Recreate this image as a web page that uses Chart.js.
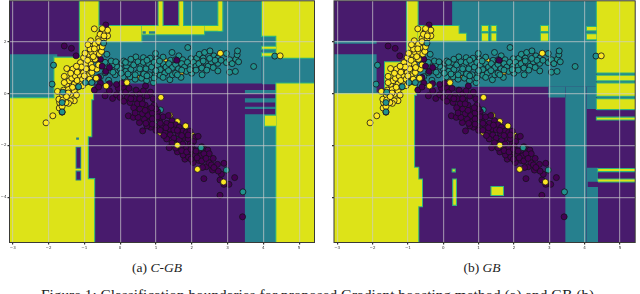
<!DOCTYPE html>
<html><head><meta charset="utf-8">
<style>
html,body{margin:0;padding:0;background:#fff;width:640px;height:294px;overflow:hidden}
canvas{position:absolute;top:-4px;filter:blur(0.5px)}
#a{left:0}#b{left:320px}
.c{position:absolute;font-family:"Liberation Serif",serif;color:#222;white-space:nowrap;transform:translateX(-50%)}
</style>
<script src="https://cdn.jsdelivr.net/npm/chart.js@4"></script>
</head><body>
<canvas id="a" width="320" height="256"></canvas>
<canvas id="b" width="320" height="256"></canvas>
<div class="c" style="left:157px;top:260px;font-size:13.5px">(a) <i>C-GB</i></div>
<div class="c" style="left:482px;top:260px;font-size:13.5px">(b) <i>GB</i></div>
<div class="c" style="left:319.5px;top:285.5px;font-size:15.3px">Figure 1: Classification boundaries for proposed Gradient boosting method (a) and GB (b).</div>
<script>
const xTickValues=[-3,-2,-1,0,1,2,3,4,5];
const yTickValues=[2,0,-2,-4];
const xRange=[-3.09,5.43];
const yRange=[-5.74,3.57];
const palette={purple:'#481b6d',teal:'#26808e',yellow:'#dde318',edge:'#2fb47c'};
const dots={purple:'#440154',teal:'#21918c',yellow:'#fde725'};

const yellowUnder=[[1.14,-.15],[.47,.63],[1.24,1.26],[1.7,.82],[2.2,1.19],[.99,1.26],[2.6,1.42],[.65,-.58],[1.39,-.85],[1.83,-1.25],[1.6,-1.08],[1.13,-1.5],[2.0,-1.6],[2.07,-1.68]];
const tealUnder=[[1.13,-.63],[.44,.13],[1.64,-1.67],[1.05,-1.15]];
const tealPoints=[[.44,1.41],[.65,1.38],[.84,1.36],[.99,1.54],[1.02,1.32],[1.2,1.4],[1.45,1.58],[1.41,1.28],[1.64,1.45],[1.75,1.3],[1.89,1.77],[1.98,1.34],[2.14,1.36],[2.21,1.51],[2.36,1.58],[2.32,1.36],[2.51,1.64],[2.62,1.45],[2.73,1.36],[2.73,1.16],[2.97,1.54],[2.97,1.19],[3.06,1.3],[3.13,1.15],[3.23,1.32],[3.27,1.49],[3.28,1.64],[3.31,1.22],[2.73,.87],[3.06,.82],[3.22,.85],[3.73,1.04],[4.32,1.44],
[.05,1.17],[.1,1.25],[.18,1.05],[.25,1.2],[.3,.92],[.38,1.1],[.5,1.22],[.58,1.05],[.65,1.2],[.72,.95],[.8,1.15],[.88,1.02],[.95,1.2],[1.05,1.1],[1.12,.92],[1.2,1.15],[1.28,1.02],[1.36,1.15],[1.46,1.0],[1.55,1.12],[1.63,.95],[1.72,1.15],[1.8,1.02],[1.88,1.2],[1.97,1.05],[2.05,1.2],[2.12,1.05],[2.2,1.15],[2.28,.98],[2.38,1.2],[2.46,1.05],[2.55,1.22],[2.6,1.0],[2.42,.9],[2.82,1.28],
[-.14,.72],[-.32,.51],[.09,.64],[.28,.64],[.42,.55],[.6,.59],[.74,.49],[.93,.42],[1.39,.53],[1.46,.72],[1.7,.62],[2.29,.72],[.15,.85],[.0,.95],[-.1,1.05],[-.22,1.1],[-.3,.9],[-.42,.8],[-.5,1.12],[-.42,1.2],[-.25,1.25],[-.12,1.22],[.5,.8],[.66,.75],[.82,.72],[.98,.78],[1.12,.7],[1.25,.78],[1.55,.78],[1.85,.85],[2.0,.78],[2.12,.9],[.42,.72],[.22,.75],[.03,.78],[-.2,.82],[.95,.6],[1.2,.62],[1.6,.72],[.75,.68],[-.55,.65],[-.7,.55],[-.85,.45],
[.3,1.32],[.75,1.28],[.55,.95],[1.0,.88],[1.35,.88],[1.72,.9],[1.95,.92],[2.32,1.25],[2.65,1.28],[1.1,1.25],[1.55,1.3],[.15,1.2],[2.5,1.35]];
const purplePoints=[[-.72,.13],[-.42,-.09],[-.21,-.19],[-.1,-.05],[.09,.23],[.33,-.09],[.71,.29],[-.3,.1],[-.05,.2],[.15,.05],[.25,.2],[.45,.12],[.0,-.15],[.2,-.15],[.4,-.2],[.55,-.02],[.65,.1],[.28,-.35],[.48,-.4],[.6,-.25],[.75,-.1],[.85,.05],[.92,-.2],[.7,-.45],[.82,-.6],[.55,-.6],[.38,-.55],[.62,-.78],[.78,-.85],[.95,-.45],[1.05,-.7],[.9,-.75],
[.23,-.86],[.37,-.92],[.54,-1.12],[.63,-1.44],[.5,-.92],[.68,-1.0],[.8,-1.1],[.97,-1.24],[1.1,-1.05],[.9,-.98],[1.05,-.9],[1.2,-.9],[1.3,-1.15],[1.39,-1.37],[1.18,-1.25],[1.0,-1.42],[.85,-1.3],[.75,-1.25],[1.45,-1.05],[1.35,-.85],[1.55,-1.2],[1.5,-1.4],[1.25,-1.5],[1.65,-1.3],[1.75,-1.45],[1.62,-1.55],[1.4,-1.6],[1.5,-1.72],[1.3,-1.75],[1.85,-1.5],[1.95,-1.45],[2.1,-1.68],[2.18,-1.65],[1.8,-1.7],[1.65,-1.8],[1.9,-1.75],[1.55,-1.95],[1.45,-1.9],[1.75,-1.95],[1.95,-1.95],[2.05,-1.85],[1.7,-2.1],[1.85,-2.12],[1.6,-2.25],[1.37,-2.09],[2.34,-2.12],[2.45,-2.18],[2.2,-2.2],[2.05,-2.15],[1.95,-2.28],[2.1,-2.38],[2.25,-2.4],
[3.42,-4.75],[2.79,-3.92],[2.34,-3.28],[2.79,-3.33],[2.9,-2.69],[3.2,-3.24],[3.04,-3.5],[2.9,-3.5],[2.83,-3.11],[2.74,-2.99],[2.72,-2.73],[2.58,-2.95],[2.41,-2.82],[2.3,-2.85],[2.48,-2.66],[2.6,-2.5],[2.49,-2.32],[2.34,-2.32],[2.2,-2.58],[2.04,-2.66],[1.81,-2.53],[1.76,-2.37],[1.91,-2.45],[1.98,-2.53],[1.72,-2.2],[1.86,-2.25],[2.15,-2.48],[2.28,-2.6],[2.4,-2.5],[2.55,-2.75],[2.62,-2.85],
[.1,-.3],[.3,-.2],[.55,-.2],[.42,-.75],[.7,-.65],[1.0,-.6],[.88,-.55],[.62,-.4],[.72,-1.15],[.9,-1.18],[1.12,-1.15],[1.28,-1.32],[1.42,-1.22],[1.12,-1.42],[1.22,-1.62],[1.6,-1.42],[1.72,-1.62],[1.9,-1.6],[2.28,-2.05],[2.0,-2.02],[1.55,-2.1],[1.98,-2.15],[2.12,-2.22]];
const purpleMix=[[-.4,2.64],[-.51,2.37],[-.6,1.77],[-1.56,1.83],[-1.36,1.74],[-1.23,1.45],[-.55,1.32],[-.7,1.32],[-1.16,.9],[-.88,1.0],[-.4,.85],[-.55,.4],[-.6,.62],[-.3,.38],[-.1,.35],[.05,.4],[-1.62,-.72]];
const yellowPoints=[[-2.07,-1.13],[-1.88,-.86],[-1.7,-.56],[-1.69,-.35],[-1.71,-.22],[-1.75,.08],[-1.58,.13],[-1.44,.17],[-1.49,.36],[-1.42,.49],[-1.28,.36],[-1.35,.59],[-1.11,.42],[-1.25,.68],[-1.11,.68],[-1.49,.96],[-1.32,.94],[-1.16,.95],[-1.02,.81],[-.91,.68],[-.79,.81],[-.67,.59],[-.65,.94],[-.82,1.13],[-.97,1.13],[-1.11,1.19],[-1.02,1.38],[-.91,1.28],[-.88,1.51],[-.7,1.32],[-.79,1.58],[-.67,1.58],[-.84,1.71],[-.65,1.77],[-.82,2.03],[-.6,2.13],[-.7,1.9],[-.56,1.96],[-.46,2.09],[-.35,2.22],[-.46,2.35],[-.35,2.44],[-.72,2.49],[-.56,2.28],[-1.28,-.28],[-1.39,-.28],[-1.44,-.38],[-1.53,-.15],[-1.39,-.03],[-1.28,.1],[-1.61,-.05],[-1.51,-.35],[-1.56,.42],[-1.2,.5],[-1.38,.78],[-1.2,.82],[-1.05,.55],[-.95,.95],[-.85,.55],[-.78,1.0],[-.98,1.55],[-.75,1.42],[-.58,1.52],[-.72,1.72],[-.52,1.62],[-.45,2.22],[-.5,2.5],[-1.08,1.02],[-1.0,.68],[-1.22,1.05],[-.6,1.1],[-1.6,-.25],[-1.45,.02],[-1.62,-.5],[-1.18,.25],[-.6,2.0],[-1.5,-.12],[-1.33,.24],[-1.22,-.06],[-1.05,.3],[-1.56,.66],[-.9,1.88],[-.5,1.8]];
const tealTop=[[-1.62,-.35],[-1.62,-.71],[-1.86,1.09],[-1.9,.36],[-1.16,.26],[-.46,1.94],[-.37,1.51],[-.97,.42],[-.79,.42],[-1.6,.05],[2.97,-2.95],[3.43,-3.79],[2.26,-2.09]];
const purpleTop=[[1.58,1.28],[-.5,1.05],[-.3,1.0],[-.6,.25]];
const yellowTop=[[4.47,1.45],[2.8,1.55],[-.39,.29],[.19,.42],[1.6,-1.99],[2.16,-2.92],[2.89,-3.41]];

const baseRegion=[[-3.2,5.6,3.7,-5.9]];
const tealLeft=[[-3.2,-1.75,1.51,-.18],[-.85,3.96,1.96,.38],[-.6,3.96,2.45,1.96],[2.86,3.96,3.7,1.96],[1.76,2.74,3.7,2.55],[3.96,4.36,2.2,.36],[3.96,5.6,1.38,.38],[3.48,4.36,-.8,-5.9],[3.48,4.36,.13,0],[3.48,4.36,-.18,-.35],[3.48,4.36,-.51,-.6]];
const yellowLeft=[[-1.13,-.6,3.7,1.3],[-.6,.6,2.6,2.0],[.6,2.35,2.6,2.28],[2.35,2.83,2.6,2.42],[1.07,1.19,3.7,2.55],[1.65,1.76,3.7,2.55],[2.74,2.86,3.7,2.42],[3.96,5.6,3.7,2.22],[4.36,5.6,2.26,1.38],[3.96,4.36,1.8,1.72],[3.96,4.36,1.55,1.45],[4.36,5.6,.38,-5.9],[4.04,4.36,-.86,-1.24],[-3.2,-.8,-.18,-1.65],[-3.2,-.9,-1.6,-3.35],[-3.2,-.72,-3.3,-5.9],[-1.84,-.75,1.38,-.22]];
const holesLeft=[[-1.25,-1.08,-2.05,-2.9,1],[-1.25,-1.08,-2.97,-3.35,1],[-1.22,-1.11,-2.09,-2.86,0],[-1.22,-1.11,-3.01,-3.31,0],[-1.23,-1.15,-1.7,-1.78,1],[.62,.72,2.4,2.3,1],[.8,.98,2.4,2.3,1]];
const tealRight=[[-3.2,-1.88,1.51,.04],[-3.2,-1.88,2.03,1.92],[-.72,4.34,2.03,.26],[.25,4.34,3.7,2.0],[2.97,3.45,.26,-.15],[3.45,4.06,.26,-5.9],[4.06,4.38,-2.86,-5.9],[4.06,4.34,.26,-.6],[4.34,5.6,.81,-.65]];
const yellowRight=[[-1.03,-.72,3.7,1.2],[-.72,.44,2.6,2.26],[-.72,.65,2.3,2.03],[1.09,1.27,2.6,2.41],[1.09,1.27,2.31,2.03],[1.36,1.5,2.6,2.41],[1.36,1.5,2.31,2.03],[2.76,2.97,2.6,2.41],[2.76,2.97,2.31,2.03],[4.06,4.34,2.56,2.44],[4.06,4.34,2.28,2.09],[4.34,5.6,3.7,.81],[4.34,5.6,.68,.51],[4.34,5.6,.38,-.09],[4.34,5.6,-.22,-.6],[4.34,5.6,-.93,-1.0],[4.38,5.6,-2.91,-2.99],[4.38,5.6,-3.31,-3.39],[-3.2,-.82,0,-2.91],[-3.2,-.7,-2.86,-3.36],[-3.2,-.6,-3.31,-4.34],[-3.2,-.7,-4.29,-5.9],[-1.65,-.77,1.2,-.05],[.28,.36,-3.31,-4.29],[1.36,1.69,-3.6,-3.91],[.26,.33,-2.93,-3.0]];
const holesRight=[[4.08,4.38,-3.4,-3.6,0]];

function rectDataset(r,color){
  return {data:[{x:r[0],y:r[2]},{x:r[1],y:r[2]}],showLine:true,pointRadius:0,borderColor:'transparent',backgroundColor:color,fill:{value:r[3]},tension:0};
}
function dotDataset(list,key){
  return {data:list.map(p=>({x:p[0],y:p[1]})),pointRadius:3,pointBorderWidth:.8,pointBorderColor:'#17121c',pointBackgroundColor:dots[key],showLine:false};
}
const framePlugin={id:'frame',afterDraw(c){const a=c.chartArea,g=c.ctx;g.save();g.strokeStyle='#3a3a36';g.lineWidth=1;g.strokeRect(a.left,a.top,a.right-a.left,a.bottom-a.top);g.restore();}};
function panel(id,teal,yellow,holes){
  const layers=[];
  baseRegion.forEach(r=>layers.push(rectDataset(r,palette.purple)));
  teal.forEach(r=>layers.push(rectDataset(r,palette.teal)));
  yellow.forEach(r=>layers.push(rectDataset([r[0]-.03,r[1]+.03,r[2]+.04,r[3]-.04],palette.edge)));
  yellow.forEach(r=>layers.push(rectDataset(r,palette.yellow)));
  holes.forEach(r=>layers.push(rectDataset(r,r[4]?palette.teal:palette.purple)));
  layers.push(dotDataset(yellowUnder,'yellow'),dotDataset(tealUnder,'teal'),dotDataset(tealPoints,'teal'),dotDataset(purplePoints,'purple'),dotDataset(purpleMix,'purple'),dotDataset(yellowPoints,'yellow'),dotDataset(tealTop,'teal'),dotDataset(purpleTop,'purple'),dotDataset(yellowTop,'yellow'));
  layers.forEach((d,i)=>{d.order=layers.length-i;});
  const lab=v=>String(v).replace('-','\u2212');
  const grid={color:'rgba(205,205,205,.6)',lineWidth:1.2,z:1,drawTicks:true,tickLength:2,tickColor:'#333'};
  new Chart(document.getElementById(id),{type:'scatter',data:{datasets:layers},plugins:[framePlugin],options:{
    responsive:false,animation:false,events:[],
    layout:{padding:{top:.5,right:id==='a'?5.5:.5,left:id==='a'?0:14,bottom:0}},
    plugins:{legend:{display:false},tooltip:{enabled:false}},
    scales:{
      x:{type:'linear',min:xRange[0],max:xRange[1],grid,border:{display:false},
        afterBuildTicks(s){s.ticks=xTickValues.map(v=>({value:v}));},
        afterFit(s){s.height=9.5;s.paddingLeft=0;s.paddingRight=0;},
        ticks:{autoSkip:false,maxRotation:0,padding:1,color:'#333',font:{size:4,family:'DejaVu Sans'},callback:lab}},
      y:{type:'linear',min:yRange[0],max:yRange[1],grid,border:{display:false},
        afterBuildTicks(s){s.ticks=yTickValues.map(v=>({value:v}));},
        afterFit(s){s.width=id==='a'?9.5:0;s.paddingTop=0;s.paddingBottom=0;},
        ticks:{autoSkip:false,padding:1,color:'#333',font:{size:4,family:'DejaVu Sans'},callback:lab}}
    }}});
}
panel('a',tealLeft,yellowLeft,holesLeft);
panel('b',tealRight,yellowRight,holesRight);
</script>
</body></html>
